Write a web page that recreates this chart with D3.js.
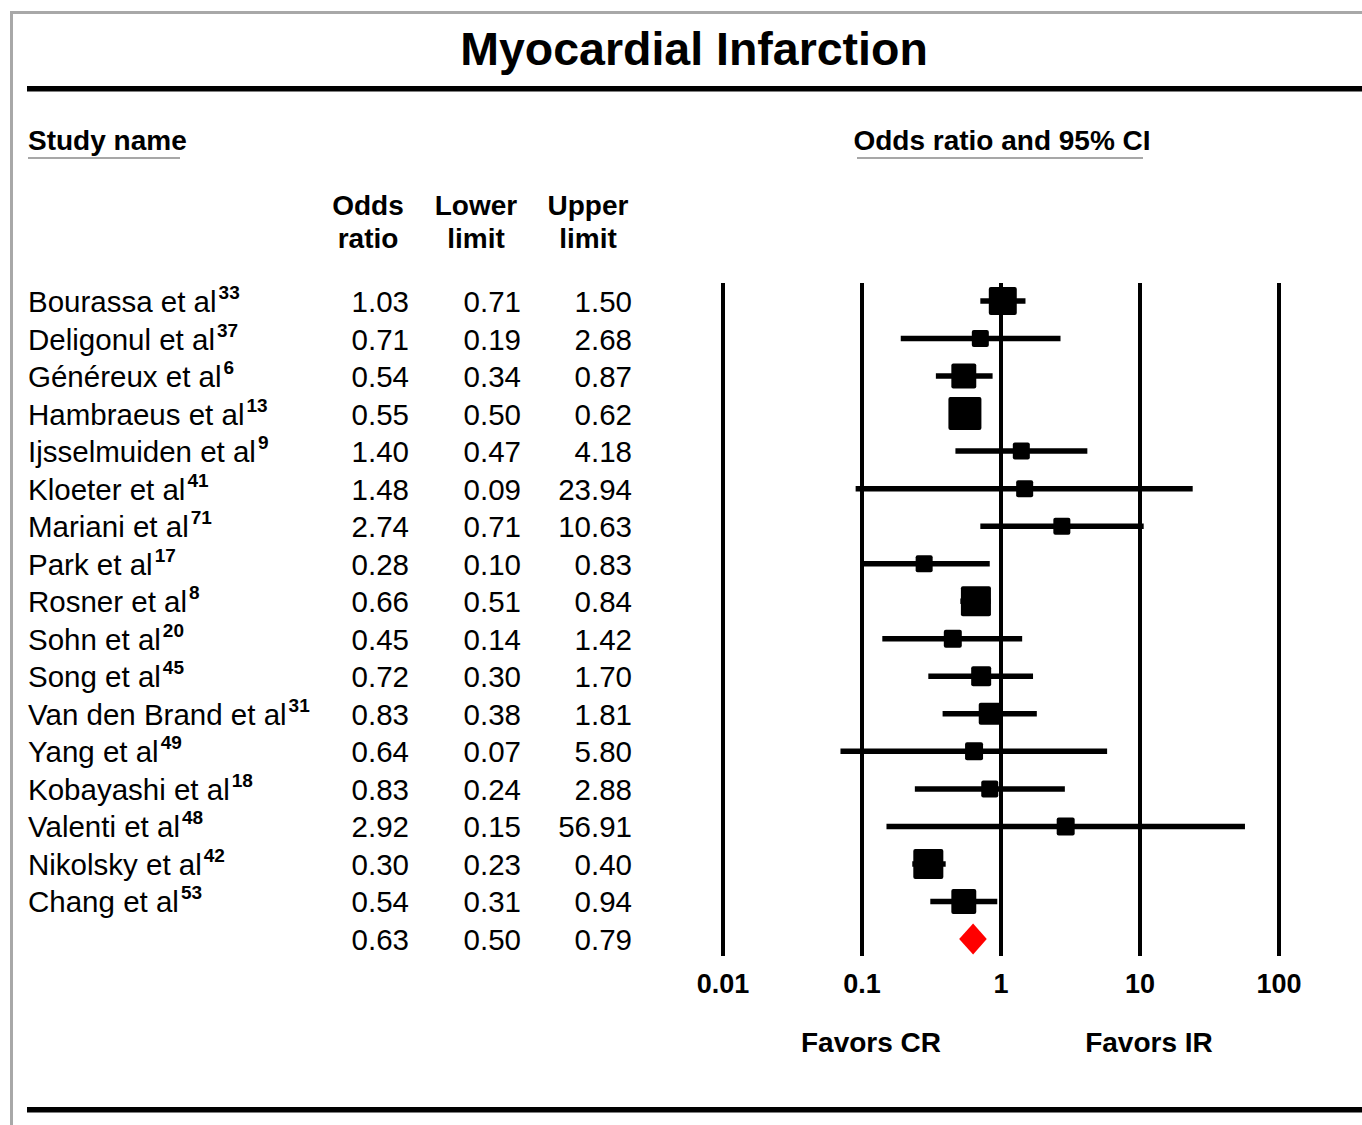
<!DOCTYPE html>
<html>
<head>
<meta charset="utf-8">
<script src="https://cdn.jsdelivr.net/npm/d3@7"></script>
<style>
  html, body { margin: 0; padding: 0; background: #fff; }
  svg text { font-family: "Liberation Sans", Arial, sans-serif; fill: #000; }
</style>
</head>
<body>
<svg id="chart" width="1362" height="1125"></svg>
<script>
// ---------- Data ----------
const studies = ["Bourassa et al", "Deligonul et al", "Généreux et al", "Hambraeus et al",
  "Ijsselmuiden et al", "Kloeter et al", "Mariani et al", "Park et al", "Rosner et al",
  "Sohn et al", "Song et al", "Van den Brand et al", "Yang et al", "Kobayashi et al",
  "Valenti et al", "Nikolsky et al", "Chang et al"];
const refs = ["33", "37", "6", "13", "9", "41", "71", "17", "8", "20", "45", "31", "49", "18", "48", "42", "53"];
const oddsRatio = [1.03, 0.71, 0.54, 0.55, 1.40, 1.48, 2.74, 0.28, 0.66, 0.45, 0.72, 0.83, 0.64, 0.83, 2.92, 0.30, 0.54];
const lowerLimit = [0.71, 0.19, 0.34, 0.50, 0.47, 0.09, 0.71, 0.10, 0.51, 0.14, 0.30, 0.38, 0.07, 0.24, 0.15, 0.23, 0.31];
const upperLimit = [1.50, 2.68, 0.87, 0.62, 4.18, 23.94, 10.63, 0.83, 0.84, 1.42, 1.70, 1.81, 5.80, 2.88, 56.91, 0.40, 0.94];
const weights = [9.2, 3.4, 7.3, 12.8, 3.4, 3.4, 3.4, 3.4, 10.6, 3.8, 4.7, 5.7, 3.8, 3.4, 3.8, 10.6, 7.3];
const summary = { or: 0.63, lower: 0.50, upper: 0.79 };
const tickValues = [0.01, 0.1, 1, 10, 100];
const tickLabels = ["0.01", "0.1", "1", "10", "100"];
const title = "Myocardial Infarction";
const favorsLeft = "Favors CR", favorsRight = "Favors IR";

// ---------- Layout ----------
const svg = d3.select("#chart");
const W = 1362, H = 1125;
const rowCount = studies.length + 1;
const y = d3.scalePoint().domain(d3.range(rowCount)).range([301, 939]);
const x = d3.scaleLog().domain([0.01, 100]).range([723, 1279]);
const size = d3.scaleSqrt().domain([0, d3.max(weights)]).range([0, 33]);
const fmt = d3.format(".2f");

// frame (gray border on top / left)
svg.append("line").attr("x1", 10).attr("x2", W).attr("y1", 12.5).attr("y2", 12.5)
  .attr("stroke", "#a8a8a8").attr("stroke-width", 3);
svg.append("line").attr("x1", 11.5).attr("x2", 11.5).attr("y1", 11).attr("y2", H)
  .attr("stroke", "#a8a8a8").attr("stroke-width", 3);

// title
svg.append("text").attr("x", 694).attr("y", 65).attr("text-anchor", "middle")
  .attr("font-size", 46.5).attr("font-weight", "bold").text(title);
svg.append("rect").attr("x", 27).attr("y", 86).attr("width", W - 27).attr("height", 5.5).attr("fill", "#000");
svg.append("rect").attr("x", 27).attr("y", 1107).attr("width", W - 27).attr("height", 5.5).attr("fill", "#000");

// section headers
svg.append("text").attr("x", 28).attr("y", 150).attr("font-size", 28).attr("font-weight", "bold").text("Study name");
svg.append("line").attr("x1", 28).attr("x2", 180).attr("y1", 158).attr("y2", 158).attr("stroke", "#8a8a8a").attr("stroke-width", 1.5);
svg.append("text").attr("x", 1002).attr("y", 150).attr("text-anchor", "middle").attr("font-size", 28).attr("font-weight", "bold").text("Odds ratio and 95% CI");
svg.append("line").attr("x1", 857).attr("x2", 1143).attr("y1", 158).attr("y2", 158).attr("stroke", "#8a8a8a").attr("stroke-width", 1.5);

// column headers
const colHeads = [["Odds", "ratio", 368], ["Lower", "limit", 476], ["Upper", "limit", 588]];
colHeads.forEach(([a, b, cx]) => {
  svg.append("text").attr("x", cx).attr("y", 215).attr("text-anchor", "middle").attr("font-size", 28).attr("font-weight", "bold").text(a);
  svg.append("text").attr("x", cx).attr("y", 248).attr("text-anchor", "middle").attr("font-size", 28).attr("font-weight", "bold").text(b);
});

// study names + superscripts
const nameText = svg.append("g").selectAll("text").data(studies).join("text")
  .attr("x", 28).attr("y", (d, i) => y(i) + 11).attr("font-size", 29.5);
nameText.append("tspan").text(d => d);
nameText.append("tspan").attr("font-size", 19).attr("font-weight", "bold").attr("dy", -13).attr("dx", 2)
  .text((d, i) => refs[i]);

// numeric columns
const cols = [[oddsRatio, summary.or, 409], [lowerLimit, summary.lower, 521], [upperLimit, summary.upper, 632]];
cols.forEach(([arr, s, xr]) => {
  svg.append("g").selectAll("text").data(arr.concat([s])).join("text")
    .attr("x", xr).attr("y", (d, i) => y(i) + 11).attr("text-anchor", "end").attr("font-size", 29.5)
    .text(d => fmt(d));
});

// axis verticals
svg.append("g").selectAll("line").data(tickValues).join("line")
  .attr("x1", d => x(d)).attr("x2", d => x(d)).attr("y1", 283).attr("y2", 956)
  .attr("stroke", "#000").attr("stroke-width", 4);
svg.append("g").selectAll("text").data(tickValues).join("text")
  .attr("x", d => x(d)).attr("y", 993).attr("text-anchor", "middle").attr("font-size", 27).attr("font-weight", "bold")
  .text((d, i) => tickLabels[i]);

svg.append("text").attr("x", 871).attr("y", 1052).attr("text-anchor", "middle").attr("font-size", 28).attr("font-weight", "bold").text(favorsLeft);
svg.append("text").attr("x", 1149).attr("y", 1052).attr("text-anchor", "middle").attr("font-size", 28).attr("font-weight", "bold").text(favorsRight);

// CI lines
svg.append("g").selectAll("line").data(studies).join("line")
  .attr("x1", (d, i) => x(lowerLimit[i])).attr("x2", (d, i) => x(upperLimit[i]))
  .attr("y1", (d, i) => y(i)).attr("y2", (d, i) => y(i))
  .attr("stroke", "#000").attr("stroke-width", 5.5);

// squares
svg.append("g").selectAll("rect").data(studies).join("rect")
  .attr("x", (d, i) => x(oddsRatio[i]) - size(weights[i]) / 2)
  .attr("y", (d, i) => y(i) - size(weights[i]) / 2)
  .attr("width", (d, i) => size(weights[i]))
  .attr("height", (d, i) => size(weights[i]))
  .attr("rx", 2).attr("fill", "#000");

// summary diamond
const sy = y(studies.length), dh = 15.5;
svg.append("path")
  .attr("d", `M${x(summary.lower)},${sy} L${x(summary.or)},${sy - dh} L${x(summary.upper)},${sy} L${x(summary.or)},${sy + dh} Z`)
  .attr("fill", "#ff0000");
</script>
</body>
</html>
